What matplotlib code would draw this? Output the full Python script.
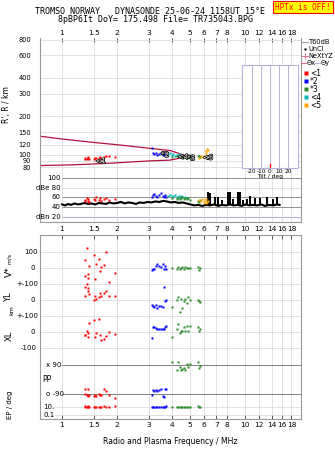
import numpy as np
import matplotlib.pyplot as plt
import matplotlib.patheffects as pe
from matplotlib.ticker import NullLocator

W, H = 335, 451

# frequency axis (MHz)
freq_ticks = [1, 1.5, 2, 3, 4, 5, 6, 7, 8, 10, 12, 14, 16, 18]
freq_labels = ['1', '1.5', '2', '3', '4', '5', '6', '7', '8', '10', '12', '14', '16', '18']
f_lo, f_hi = 0.753, 20.3

# virtual height axis (km)
h_ticks = [80, 90, 100, 120, 150, 200, 300, 400, 600, 800]

# model curves in the R' panel
upper_f = [0.753, 0.954, 1.48, 1.99, 2.91, 3.9, 4.9]
upper_h = [140, 134, 125, 120, 113, 108, 97]
lower_f = [0.753, 1.15, 1.83, 3.03, 3.9, 4.9]
lower_h = [82.3, 83.4, 85.9, 89.6, 90.8, 97]

# echoes, layer 1 (red)
red_f = [1.33, 1.34, 1.365, 1.38, 1.39, 1.41, 1.50, 1.515, 1.535, 1.59, 1.61, 1.63, 1.70, 1.74, 1.80, 1.95]
red_h = [92, 95, 93, 94, 96, 92, 93, 95, 94, 95, 96, 93, 96, 97, 98, 96]
red_db = [52, 55, 58, 53, 56, 51, 57, 54, 60, 55, 58, 52, 56, 59, 54, 57]
red_vs = [-45, 52, 127, -34, -60, 15, 83, -69, 27, 58, -15, 6, 19, 102, -84, -27]
red_yl = [25, 83, 100, 58, 77, 35, 0, 25, 8, 17, 42, 25, 42, 58, 25, 25]
red_xl = [-17, -21, 8, -29, -8, 54, 75, -33, -8, 79, -17, -50, -42, -25, 0, -12]
red_pp = [-62, -94, -98, -62, -104, -98, -102, -98, -104, -94, -98, -98, -62, -73, -98, -115]
red_ep = [12, 10, 8, 12, 10, 9, 10, 9, 10, 11, 9, 10, 12, 10, 9, 12]

# layer 2 (blue)
blue_f = [3.10, 3.15, 3.20, 3.25, 3.32, 3.40, 3.48, 3.55, 3.62, 3.68, 3.72]
blue_h = [112, 104, 102, 103, 100, 101, 103, 99, 101, 100, 98]
blue_db = [62, 65, 68, 64, 60, 66, 69, 63, 61, 65, 62]
blue_vs = [-11, -6, -2, 14, 29, 16, 10, 27, -2, 14, -2]
blue_yl = [-31, -36, -42, -33, -48, -40, -38, -46, 83, -6, 0]
blue_xl = [-36, 30, 33, 23, 20, 17, 19, 17, 21, 33, 37]
blue_pp = [-98, -67, -71, -67, -75, -67, -62, -104, -109, -60, -62]
blue_ep = [10, 8, 11, 7, 9, 10, 8, 11, 9, 10, 12]

# layer 3 (green)
green_f = [3.98, 4.24, 4.33, 4.40, 4.46, 4.55, 4.62, 4.71, 4.80, 4.91, 5.02, 5.55, 5.60, 5.66]
green_h = [96, 97, 98, 96, 97, 95, 96, 97, 95, 96, 95, 97, 98, 96]
green_db = [58, 57, 59, 56, 58, 60, 57, 59, 56, 58, 55, 53, 51, 54]
green_vs = [2, -2, 6, -2, 0, 10, -2, 6, 0, 2, 4, 6, -11, 0]
green_yl = [-42, 0, 17, -73, 8, -52, -4, 8, -17, 17, 0, 0, -6, -10]
green_xl = [-29, 21, 50, -8, 8, 8, 29, 8, 37, 8, 37, 33, 8, 20]
green_pp = [108, 58, 108, 79, 58, 62, 70, 60, 96, 80, 96, 108, 69, 85]
green_ep = [9, 10, 8, 11, 9, 10, 8, 10, 11, 9, 10, 12, 11, 10]

# layer 4 (cyan) and 5 (orange): only heights and amplitudes
cyan_f = [3.82, 3.90, 3.98, 4.05, 4.15, 4.25, 4.35, 4.45, 4.55, 4.70, 4.85]
cyan_h = [100, 103, 99, 101, 98, 100, 102, 99, 97, 98, 96]
cyan_db = [63, 66, 62, 64, 65, 61, 63, 64, 60, 62, 59]
orange_f = [5.60, 5.75, 5.85, 5.95, 6.05, 6.10, 6.15, 6.20, 6.30]
orange_h = [95, 97, 96, 98, 96, 103, 107, 111, 109]
orange_db = [55, 52, 57, 50, 54, 48, 56, 51, 53]

# trace labels
trace_names = ['<1', '*2', '<4', '*3', '<5']
trace_f = [1.63, 3.66, 4.6, 5.08, 6.3]
trace_h = [89, 100, 96, 94, 95]

# noise floor (dB) and interference spikes
noise_f = [1.00, 1.04, 1.08, 1.12, 1.17, 1.22, 1.27, 1.33, 1.39, 1.45, 1.52, 1.59, 1.66, 1.74, 1.82,
           1.91, 2.0, 2.1, 2.2, 2.3, 2.42, 2.54, 2.66, 2.8, 2.94, 3.08, 3.24, 3.4, 3.57, 3.75, 3.94,
           4.14, 4.35, 4.57, 4.8, 5.04, 5.3, 5.57, 5.85, 6.15, 6.46, 6.8, 7.15, 7.5, 7.9, 8.3, 8.7,
           9.15, 9.6, 10.1, 10.6, 11.1, 11.7, 12.3, 12.9, 13.6, 14.3, 15.0, 15.5]
noise_db = [46, 44, 47, 45, 48, 46, 47, 49, 47, 48, 46, 49, 48, 47, 50, 48, 49, 51, 48, 50, 49, 47,
            50, 49, 51, 50, 52, 51, 53, 52, 50, 51, 49, 50, 48, 46, 44, 45, 43, 45, 44, 46, 43, 45,
            44, 46, 44, 45, 43, 46, 44, 45, 44, 46, 43, 45, 44, 46, 45]
spike_f = [6.30, 6.46, 6.88, 7.14, 7.49, 8.1, 8.25, 8.6, 9.2, 9.4, 9.8, 10.3, 10.7, 11.4, 12.1, 13.2, 14.3, 15.0]
spike_db = [72, 70, 62, 61, 54, 72, 72, 56, 72, 72, 54, 57, 64, 58, 59, 61, 56, 61]

tilt_marks = [0]

grid_c = '#dcdcdc'
spine_c = '#9a9a9a'
dark_c = '#808080'
lav_c = '#b4b4dc'
crimson = '#b0143c'
cols = {'red': '#ff0000', 'blue': '#0000ff', 'green': '#2a8a2a', 'cyan': '#00b4b4', 'orange': '#ffa500'}

fig = plt.figure(figsize=(W / 100, H / 100), dpi=100)


def box(x0, y0, x1, y1):
    return [x0 / W, 1 - y1 / H, (x1 - x0) / W, (y1 - y0) / H]


def px_text(x, y, s, **kw):
    kw.setdefault('fontsize', 5)
    kw.setdefault('va', 'center')
    fig.text(x / W, 1 - y / H, s, **kw)


def freq_axis(ax):
    ax.set_xscale('log')
    ax.set_xlim(f_lo, f_hi)
    ax.xaxis.set_minor_locator(NullLocator())
    ax.set_xticks(freq_ticks)
    ax.set_xticklabels(freq_labels)
    ax.grid(True, axis='x', color=grid_c, lw=0.6)
    for s in ax.spines.values():
        s.set_color(spine_c)
        s.set_linewidth(0.8)


# titles
px_text(150, 12, 'TROMSO NORWAY   DYNASONDE 25-06-24 1158UT 15°E', family='DejaVu Sans Mono',
        fontsize=6, ha='center')
px_text(156, 20, '8pBP6It DoY= 175.498 File= TR735043.BPG', family='DejaVu Sans Mono',
        fontsize=6, ha='center')
px_text(303, 7, 'HPTx is OFF!', family='DejaVu Sans Mono', fontsize=5.6, ha='center', color='red',
        bbox=dict(boxstyle='square,pad=0.25', fc='#ffff00', ec='red', lw=0.8))

# ---- height panel
ax_h = fig.add_axes(box(39.5, 38, 301, 172))
freq_axis(ax_h)
ax_h.set_yscale('log')
ax_h.set_ylim(73.3, 822)
ax_h.yaxis.set_minor_locator(NullLocator())
ax_h.set_yticks(h_ticks)
ax_h.set_yticklabels([str(t) for t in h_ticks])
ax_h.grid(True, axis='y', color=grid_c, lw=0.6)
ax_h.xaxis.tick_top()
ax_h.tick_params(axis='x', direction='in', length=3, width=0.6, color='#404040', labelsize=5.3, pad=1.5)
ax_h.tick_params(axis='y', length=0, pad=6, labelsize=4.8)
ax_h.spines['top'].set_visible(False)
ax_h.spines['bottom'].set_visible(False)
ax_h.set_ylabel("R', R / km", fontsize=5.5, labelpad=5)

ax_h.plot(upper_f, upper_h, color=crimson, lw=0.9)
ax_h.plot(lower_f, lower_h, color=crimson, lw=0.9)
for f, h, c in [(red_f, red_h, 'red'), (blue_f, blue_h, 'blue'), (cyan_f, cyan_h, 'cyan'),
                (green_f, green_h, 'green'), (orange_f, orange_h, 'orange')]:
    ax_h.plot(f, h, 's', ms=1.5, color=cols[c], mec='none')
for name, f, h in zip(trace_names, trace_f, trace_h):
    ax_h.text(f, h, name, fontsize=5, color='white', ha='center', va='center',
              path_effects=[pe.withStroke(linewidth=1.0, foreground='black')])

# ---- amplitude panel
ax_d = fig.add_axes(box(39.5, 172, 301, 222))
freq_axis(ax_d)
ax_d.patch.set_alpha(0)
ax_d.set_ylim(10.5, 111.5)
ax_d.set_yticks([])
ax_d.tick_params(axis='x', length=0, labelbottom=False)
ax_d.spines['top'].set_visible(False)
ax_d.hlines([100, 60, 40], 1.0, f_hi, color=dark_c, lw=0.6)
ax_d.hlines([80], 1.0, f_hi, color=grid_c, lw=0.6)
ax_d.hlines([20], 1.0, f_hi, color=lav_c, lw=0.8)
for v, s in [(100, '100'), (80, 'dBe 80'), (60, '60'), (40, '40'), (20, 'dBn 20')]:
    ax_d.text(0.985, v, s, fontsize=5, ha='right', va='center')
ax_d.plot(noise_f, noise_db, color='black', lw=1.5)
ax_d.vlines(spike_f, np.interp(spike_f, noise_f, noise_db), spike_db, color='black', lw=1.4)
for f, d, c in [(red_f, red_db, 'red'), (blue_f, blue_db, 'blue'), (cyan_f, cyan_db, 'cyan'),
                (green_f, green_db, 'green'), (orange_f, orange_db, 'orange')]:
    ax_d.plot(f, d, 's', ms=1.5, color=cols[c], mec='none')

# tilt inset (drawn above the other panels)
ax_t = fig.add_axes(box(241.7, 65, 298.3, 167.7))
ax_t.set_zorder(5)
ax_t.set_xlim(-31.4, 31.4)
ax_t.set_ylim(0, 1)
ax_t.set_yticks([])
ax_t.set_xticks([-20, -10, 0, 10, 20])
ax_t.set_xticklabels(['-20', '-10', '0', '10', '20'])
ax_t.tick_params(axis='x', length=0, pad=1, labelsize=4.2)
ax_t.set_xlabel('Tilt / deg', fontsize=4.2, labelpad=0)
ax_t.grid(True, axis='x', color=lav_c, lw=0.7)
for s in ax_t.spines.values():
    s.set_color(lav_c)
    s.set_linewidth(0.8)
for t in tilt_marks:
    ax_t.plot([t, t], [0, 0.04], color='red', lw=1)

# ---- echo parameter panel (y in screen rows)
VS0, YL0, XL0, UNIT = 268.3, 300.0, 332.0, 0.16
PP0, PP_UNIT = 379.3, 28.7 / 180
EP10, EP_DEC = 406.7, 4.15

ax_p = fig.add_axes(box(39.5, 235, 301, 419))
freq_axis(ax_p)
ax_p.set_ylim(419, 235)
ax_p.set_yticks([])
ax_p.tick_params(axis='x', top=True, labeltop=True, bottom=True, labelbottom=True, direction='in',
                 length=3, width=0.6, color='#404040', labelsize=5.3, pad=2.5)
ax_p.set_xlabel('Radio and Plasma Frequency / MHz', fontsize=5.5, labelpad=6)

for y in [VS0 - 100 * UNIT, VS0, VS0 + 100 * UNIT, YL0, YL0 + 100 * UNIT, XL0, XL0 + 100 * UNIT]:
    ax_p.axhline(y, color=grid_c, lw=0.6)
ax_p.hlines([PP0 - 90 * PP_UNIT, PP0 + 90 * PP_UNIT], 1.0, f_hi, color=dark_c, lw=0.7)
ax_p.hlines([EP10, EP10 + 2 * EP_DEC], 0.88, f_hi, color=grid_c, lw=0.6)

for f, c, vs, yl, xl, pp, ep in [(red_f, 'red', red_vs, red_yl, red_xl, red_pp, red_ep),
                                 (blue_f, 'blue', blue_vs, blue_yl, blue_xl, blue_pp, blue_ep),
                                 (green_f, 'green', green_vs, green_yl, green_xl, green_pp, green_ep)]:
    f = np.array(f)
    kw = dict(ls='none', marker='s', ms=1.5, color=cols[c], mec='none')
    ax_p.plot(f, VS0 - np.array(vs) * UNIT, **kw)
    ax_p.plot(f, YL0 - np.array(yl) * UNIT, **kw)
    ax_p.plot(f, XL0 - np.array(xl) * UNIT, **kw)
    ax_p.plot(f, PP0 - np.array(pp) * PP_UNIT, **kw)
    ax_p.plot(f, EP10 - np.log10(np.array(ep) / 10) * EP_DEC, **kw)

# row labels
px_text(38, VS0 - 100 * UNIT, '100', ha='right')
px_text(33, VS0, '0', ha='center')
px_text(38, VS0 + 100 * UNIT, '+-100', ha='right')
px_text(33, YL0, '0', ha='center')
px_text(38, YL0 + 100 * UNIT, '+-100', ha='right')
px_text(33, XL0, '0', ha='center')
px_text(37, XL0 + 100 * UNIT, '-100', ha='right')
px_text(46, PP0 - 90 * PP_UNIT, 'x 90', ha='left')
px_text(42, PP0, 'PP', ha='left', fontsize=5.5)
px_text(46, PP0 + 90 * PP_UNIT, 'o -90', ha='left')
px_text(43, EP10, '10.', ha='left')
px_text(43, EP10 + 2 * EP_DEC, '0.1', ha='left')

px_text(9, 272, 'V*', rotation=90, ha='center', fontsize=6.5)
px_text(10, 259, 'm/s', rotation=90, ha='center', fontsize=4.3)
px_text(9, 297, 'YL', rotation=90, ha='center', fontsize=6)
px_text(12, 310, 'km', rotation=90, ha='center', fontsize=4.5)
px_text(9, 336, 'XL', rotation=90, ha='center', fontsize=6)
px_text(10, 405, 'EP / deg', rotation=90, ha='center', fontsize=5)

# ---- legend in right margin
ax_l = fig.add_axes(box(300, 36, 335, 110))
ax_l.set_xlim(300, 335)
ax_l.set_ylim(110, 36)
ax_l.axis('off')
ax_l.plot([302, 308], [42, 42], color='#a0a0a0', lw=0.8)
ax_l.text(308.5, 42, 'T60dB', fontsize=4.8, va='center')
ax_l.plot([305], [49], '.', color='black', ms=1.5)
ax_l.text(308.5, 49, 'UnCl', fontsize=4.8, va='center')
ax_l.plot([305], [56], '+', color='#e07090', ms=4, mew=0.7)
ax_l.plot([302, 308], [56, 56], color='#e07090', lw=0.5)
ax_l.text(308.5, 56, 'NeXtYZ', fontsize=4.8, va='center')
ax_l.plot([301, 306], [63, 63], color='#e07090', lw=0.8)
ax_l.text(306.5, 63, 'Θx', fontsize=4.8, va='center')
ax_l.plot([315, 320], [63, 63], color=lav_c, lw=0.8)
ax_l.text(320.5, 63, 'Θy', fontsize=4.8, va='center')
for i, (c, name) in enumerate(zip(['red', 'blue', 'green', 'cyan', 'orange'], ['<1', '*2', '*3', '<4', '<5'])):
    y = 73 + 8 * i
    ax_l.plot([306], [y], 's', ms=2.2, color=cols[c], mec='none')
    ax_l.text(310, y, name, fontsize=5.5, va='center')

fig.savefig('out.png', dpi=100)
